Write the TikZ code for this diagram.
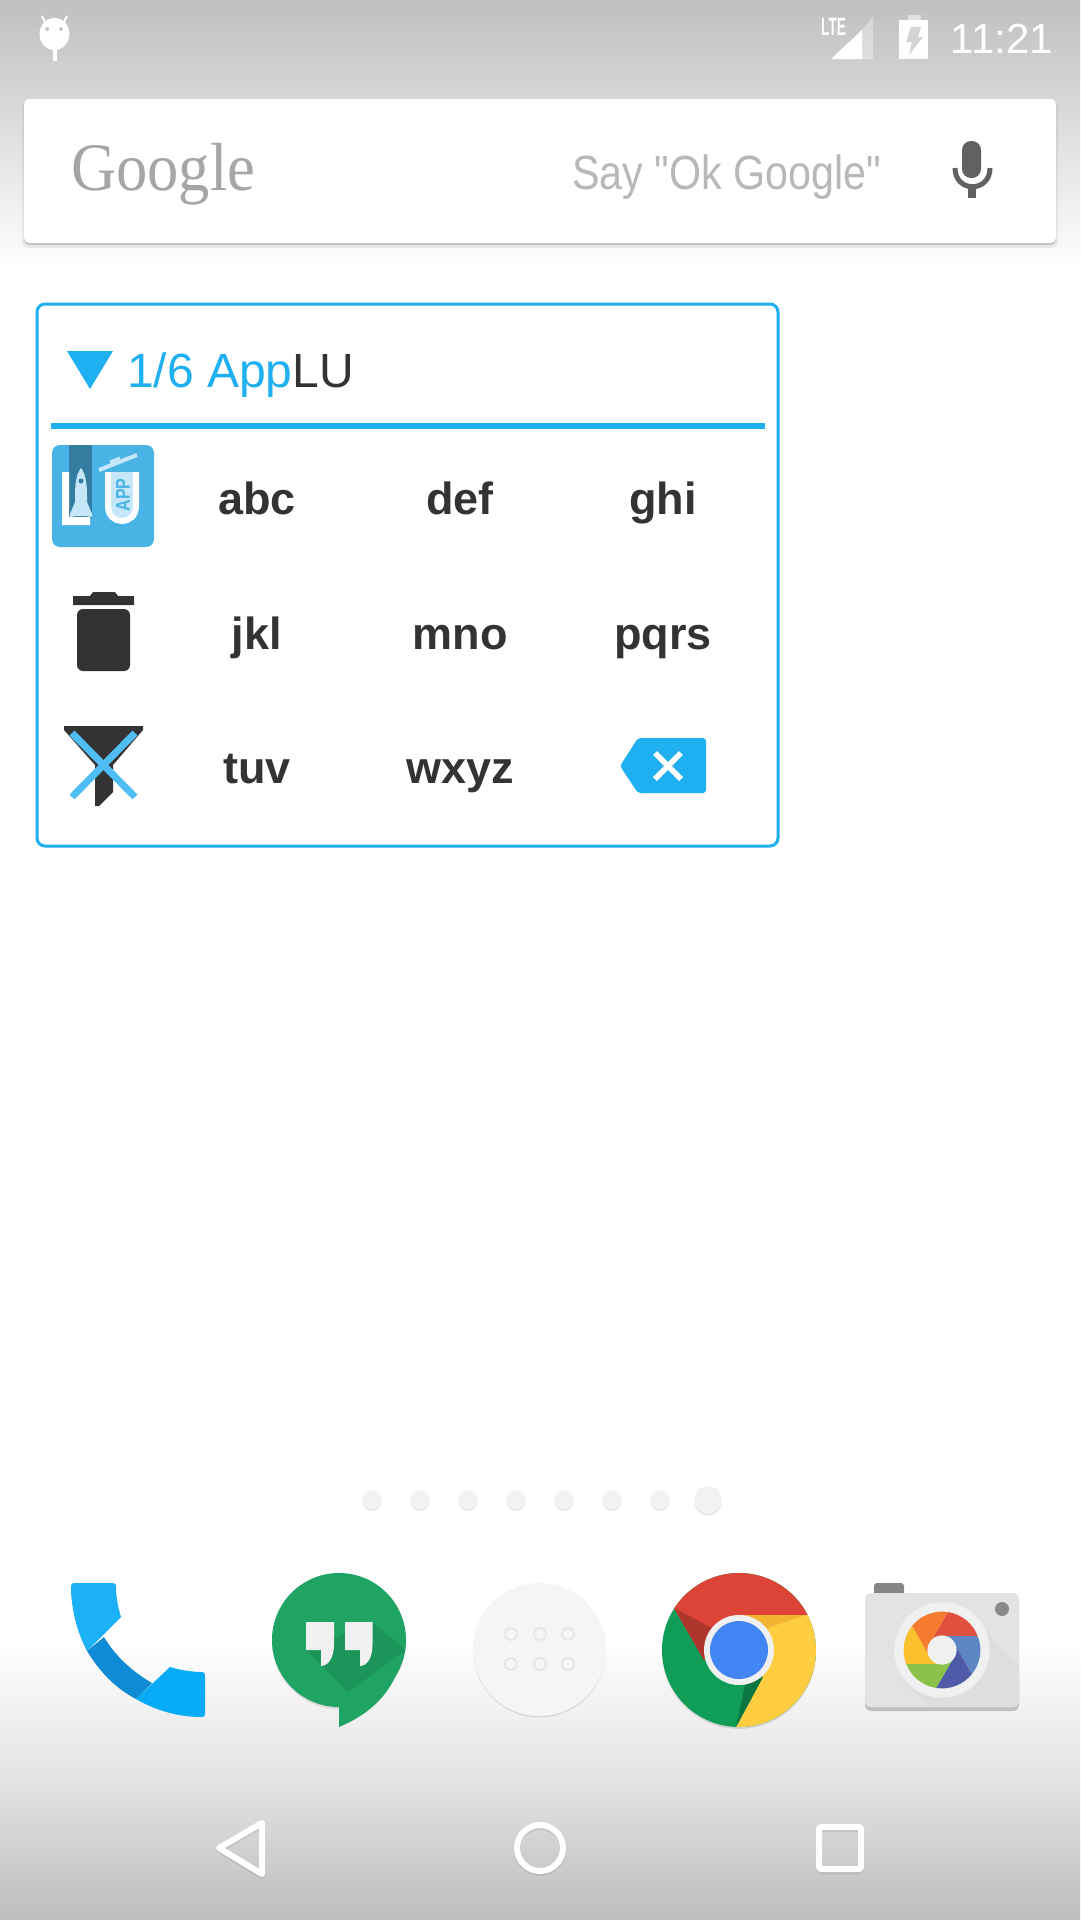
\documentclass[tikz,border=0pt]{standalone}
\usepackage{fontspec}
\usepackage{tikz}
\usetikzlibrary{shadows}
\setmainfont{Liberation Sans}
\newfontfamily\logofont{Liberation Serif}
\newfontfamily\hintfont{Liberation Sans}

\definecolor{wblue}{HTML}{1EB0F0}
\definecolor{wdark}{HTML}{333333}
\definecolor{iconblue}{HTML}{4AB3E6}
\definecolor{iconpale}{HTML}{C5E7F9}
\definecolor{crossblue}{HTML}{50BEF4}
\definecolor{cred}{HTML}{DB4437}
\definecolor{cgreen}{HTML}{0F9D58}
\definecolor{cyellow}{HTML}{FFCD40}
\definecolor{cblue}{HTML}{4285F4}
\definecolor{hgreen}{HTML}{1FA463}
\definecolor{phonetop}{HTML}{1CB0F6}
\definecolor{phonelow}{HTML}{08ABF5}
\definecolor{phonemid}{HTML}{0E8BD4}
\definecolor{lensred}{HTML}{E0503F}
\definecolor{lensblue}{HTML}{5E86C4}
\definecolor{lensnavy}{HTML}{4F5BA8}
\definecolor{lensgreen}{HTML}{8BC34A}
\definecolor{lensyellow}{HTML}{FBC02D}
\definecolor{lensorange}{HTML}{F57C2F}

\begin{document}
\begin{tikzpicture}[x=1pt, y=-1pt, node distance={203pt},
    keylabel/.style = {inner sep=0pt, text height=35pt, text depth=10pt, text=wdark, font=\fontsize{45}{54}\selectfont\bfseries},
    pagedot/.style = {circle, inner sep=0pt, minimum size=19pt, fill=black!5, node distance={48pt}, drop shadow={shadow xshift=0pt, shadow yshift=-1.5pt, fill=black, opacity=.1}},
    navline/.style = {draw=white, line width=6pt, line join=round},
    navshade/.style = {draw=black, opacity=.08, line width=6pt, line join=round},
    applift/.style = {fill=black, opacity=.1}]

    \useasboundingbox (0,0) rectangle (1080,1920);
    \fill[white] (0,0) rectangle (1080,1920);
    \shade[top color=black!25, bottom color=white] (0,0) rectangle (1080,270);
    \shade[top color=white, bottom color=black!11] (0,1640) rectangle (1080,1780);
    \shade[top color=black!11, bottom color=black!26] (0,1780) rectangle (1080,1920);

    % status bar
    \fill[white] (54.5,34) ellipse (15 and 16);
    \draw[white, line width=2pt] (42,16) -- (46,24);
    \draw[white, line width=2pt] (67,16) -- (63,24);
    \fill[white] (52.5,50) rectangle (56.5,61);
    \fill[black!22] (47,29) circle (2);
    \fill[black!22] (61,29) circle (2);
    \node[inner sep=0pt, anchor=base west, text=white, font=\fontsize{25}{30}\selectfont\bfseries] (lte) at (821,35) {\scalebox{.55}[1]{LTE}};
    \fill[white, opacity=.35] (873,17) -- (873,59) -- (862,59) -- (862,30) -- cycle;
    \fill[white] (862,30) -- (862,59) -- (831,59) -- cycle;
    \fill[white, opacity=.5] (908,15) rectangle (921,20);
    \fill[white] (899,20) rectangle (928,59);
    \fill[black!17] (911,27) -- (921,27) -- (918,37) -- (923,37) -- (909,55) -- (912,42) -- (906,42) -- cycle;
    \node[inner sep=0pt, anchor=base east, text=white, font=\fontsize{42}{50}\selectfont] (clock) at (1053,53) {11:21};

    % search bar
    \fill[black, opacity=.06, rounded corners=6pt] (22,101) rectangle (1058,248);
    \fill[white, rounded corners=5pt, drop shadow={shadow xshift=0pt, shadow yshift=-2pt, fill=black, opacity=.18}] (24,99) rectangle (1056,243);
    \node[inner sep=0pt, anchor=base west, text=black!35, font=\logofont\fontsize{68}{80}\selectfont] (logo) at (71,190) {\scalebox{.92}[1]{Google}};
    \node[inner sep=0pt, anchor=base west, text=black!28, font=\hintfont\fontsize{48}{58}\selectfont] (say) at (572,189) {\scalebox{.86}[1]{Say "Ok Google"}};
    \fill[black!62, rounded corners=9pt] (962,141) rectangle (981,178);
    \draw[black!62, line width=5pt] (955,168) .. controls (955,193) and (990,193) .. (990,168);
    \fill[black!62] (968,186) rectangle (976,198);

    % widget
    \draw[wblue, line width=3pt, rounded corners=8pt] (37,304) rectangle (778,846);
    \fill[wblue] (67,351) -- (113,351) -- (90,389) -- cycle;
    \node[inner sep=0pt, anchor=base west, text=wdark, font=\fontsize{48}{58}\selectfont] (title) at (127,387) {\textcolor{wblue}{1/6 App}LU};
    \fill[wblue] (51,423) rectangle (765,429);

    \fill[iconblue, rounded corners=8pt] (52,445) rectangle (154,547);
    \fill[iconblue!70!black] (69,445) rectangle (92,518);
    \fill[white] (62,472) -- (69,472) -- (69,517) -- (90,517) -- (90,525) -- (62,525) -- cycle;
    \fill[iconpale] (81,468) .. controls (85,473) and (87,482) .. (87,495) -- (87,502) -- (92,514) -- (92,517) -- (85,516) -- (77,516) -- (70,517) -- (70,514) -- (75,502) -- (75,495) .. controls (75,482) and (77,473) .. cycle;
    \fill[iconblue!70!black] (81,481) circle (2.5);
    \fill[iconpale] (108,472) -- (108,506) .. controls (108,525) and (136,525) .. (136,506) -- (136,472) -- cycle;
    \draw[white, line width=6pt] (108,472) -- (108,506) .. controls (108,526) and (136,526) .. (136,506) -- (136,472);
    \draw[iconpale, line width=4pt] (99,470) -- (137,455);
    \draw[iconpale, line width=3pt] (110,462) -- (120,458);
    \node[inner sep=0pt, rotate=90, text=iconblue, font=\fontsize{20}{24}\selectfont\bfseries] (apptag) at (123,495) {\scalebox{.8}[1]{APP}};

    \node[keylabel] (abc) at (257,501.5) {abc};
    \node[keylabel] (def) [right of=abc] {def};
    \node[keylabel] (ghi) [right of=def] {ghi};
    \node[keylabel] (jkl) at (257,636.5) {jkl};
    \node[keylabel] (mno) [right of=jkl] {mno};
    \node[keylabel] (pqrs) [right of=mno] {pqrs};
    \node[keylabel] (tuv) at (257,770.5) {tuv};
    \node[keylabel] (wxyz) [right of=tuv] {wxyz};

    \fill[wdark] (90,596) -- (93,592) -- (115,592) -- (118,596) -- (134,596) -- (134,605) -- (73,605) -- (73,596) -- cycle;
    \fill[wdark, rounded corners=6pt] (77,609) -- (130,609) -- (130,671) -- (77,671) -- cycle;

    \fill[wdark] (64,726) -- (143,726) -- (143,730) -- (113,765) -- (113,792) -- (99,806) -- (95,806) -- (95,765) -- (64,730) -- cycle;
    \draw[crossblue, line width=7pt] (72,733) -- (135,797);
    \draw[crossblue, line width=7pt] (135,733) -- (72,797);

    \fill[wblue, rounded corners=3pt] (620,766) -- (638,738) -- (706,738) -- (706,793) -- (638,793) -- cycle;
    \draw[white, line width=5.5pt] (655,753) -- (681,779);
    \draw[white, line width=5.5pt] (681,753) -- (655,779);

    % page dots
    \node[pagedot] (d1) at (372,1500) {};
    \node[pagedot] (d2) [right of=d1] {};
    \node[pagedot] (d3) [right of=d2] {};
    \node[pagedot] (d4) [right of=d3] {};
    \node[pagedot] (d5) [right of=d4] {};
    \node[pagedot] (d6) [right of=d5] {};
    \node[pagedot] (d7) [right of=d6] {};
    \node[pagedot, minimum size=28pt] (d8) [right of=d7] {};

    % phone
    \fill[phonemid] (87,1651) .. controls (100,1672) and (115,1688) .. (136,1699) -- (152,1683) .. controls (133,1672) and (116,1657) .. (104,1637) -- cycle;
    \fill[phonetop] (74,1583) -- (113,1583) .. controls (116,1583) and (116,1585) .. (116,1587) .. controls (116,1597) and (118,1607) .. (121,1617) -- (87,1651) .. controls (76,1630) and (71,1607) .. (71,1586) .. controls (71,1584) and (72,1583) .. (74,1583) -- cycle;
    \fill[phonelow] (170,1667) .. controls (180,1670) and (192,1672) .. (202,1672) .. controls (204,1672) and (205,1673) .. (205,1675) -- (205,1714) .. controls (205,1716) and (204,1717) .. (202,1717) .. controls (177,1717) and (155,1710) .. (136,1699) -- cycle;

    % hangouts
    \fill[applift] (339,1642) circle (67);
    \fill[hgreen] (339,1640) circle (67);
    \fill[hgreen] (339,1700) -- (339,1727) .. controls (365,1716) and (385,1700) .. (396,1675) -- cycle;
    \begin{scope}
    \clip (339,1640) circle (67);
    \fill[black, opacity=.09] (306,1650) -- (348,1692) -- (406,1650) -- (372,1622) -- cycle;
    \end{scope}
    \fill[black!6] (306,1622) -- (334,1622) -- (334,1645) .. controls (334,1656) and (329,1666) .. (321,1666) -- (321,1650) -- (306,1650) -- cycle;
    \fill[black!6] (345,1622) -- (372.5,1622) -- (372.5,1645) .. controls (372.5,1656) and (368,1666) .. (360,1666) -- (360,1650) -- (345,1650) -- cycle;

    % app drawer
    \fill[applift] (539.5,1651) circle (66.5);
    \fill[black!4] (539.5,1649.5) circle (66.5);
    \draw[black!11, line width=1.5pt] (511,1634) circle (6);
    \draw[black!11, line width=1.5pt] (540,1634) circle (6);
    \draw[black!11, line width=1.5pt] (568,1634) circle (6);
    \draw[black!11, line width=1.5pt] (511,1664) circle (6);
    \draw[black!11, line width=1.5pt] (540,1664) circle (6);
    \draw[black!11, line width=1.5pt] (568,1664) circle (6);

    % chrome
    \fill[applift] (739,1652) circle (77);
    \begin{scope}
    \clip (739,1650) circle (77);
    \fill[cgreen] (660,1570) rectangle (820,1730);
    \fill[cred] (674,1608) -- (704,1660) -- (739,1650) -- (806,1615) -- (830,1615) -- (830,1560) -- (650,1560) -- (650,1608) -- cycle;
    \fill[cyellow] (806,1615) -- (739,1615) -- (739,1650) -- (763,1677) -- (736,1727) -- (736,1740) -- (830,1740) -- (830,1615) -- cycle;
    \fill[cred!80!black] (674,1608) -- (704,1660) -- (712,1628) -- cycle;
    \fill[cyellow!80!orange!95!black] (739,1615) -- (806,1615) -- (755,1632) -- cycle;
    \fill[cgreen!75!black] (736,1727) -- (763,1677) -- (745,1685) -- cycle;
    \end{scope}
    \fill[black!6] (739,1650) circle (35);
    \fill[cblue] (739,1650) circle (29);

    % camera
    \fill[black, opacity=.2, rounded corners=6pt] (865,1596) rectangle (1019,1711);
    \fill[black!48, rounded corners=3pt] (874,1583) rectangle (904,1597);
    \fill[black!11, rounded corners=6pt] (865,1593) rectangle (1019,1707);
    \fill[black!13] (975,1622) -- (1019,1665) -- (1019,1701) .. controls (1019,1705) and (1017,1707) .. (1013,1707) -- (930,1707) -- (900,1680) -- cycle;
    \fill[black!46] (1002,1609) circle (7);
    \fill[black!6] (942,1650) circle (47.7);
    \begin{scope}[shift={(942,1650)}, y=1pt]
    \fill[lensred] (81:38.4) arc[start angle=81, end angle=21, radius=38.4] -- (90:14) -- (150:14) -- cycle;
    \fill[lensblue] (21:38.4) arc[start angle=21, end angle=-39, radius=38.4] -- (30:14) -- (90:14) -- cycle;
    \fill[lensnavy] (-39:38.4) arc[start angle=-39, end angle=-99, radius=38.4] -- (-30:14) -- (30:14) -- cycle;
    \fill[lensgreen] (-99:38.4) arc[start angle=-99, end angle=-159, radius=38.4] -- (-90:14) -- (-30:14) -- cycle;
    \fill[lensyellow] (-159:38.4) arc[start angle=-159, end angle=-219, radius=38.4] -- (-150:14) -- (-90:14) -- cycle;
    \fill[lensorange] (141:38.4) arc[start angle=141, end angle=81, radius=38.4] -- (150:14) -- (-150:14) -- cycle;
    \fill[black!6] (0,0) circle (14.6);
    \end{scope}

    % nav bar
    \draw[navshade] (219,1850) -- (262,1825) -- (262,1876) -- cycle;
    \draw[navshade] (540,1850) circle (23);
    \draw[navshade, rounded corners=2pt] (819,1829) rectangle (861,1871);
    \draw[navline] (219,1848) -- (262,1823) -- (262,1874) -- cycle;
    \draw[navline] (540,1848) circle (23);
    \draw[navline, rounded corners=2pt] (819,1827) rectangle (861,1869);
\end{tikzpicture}
\end{document}
